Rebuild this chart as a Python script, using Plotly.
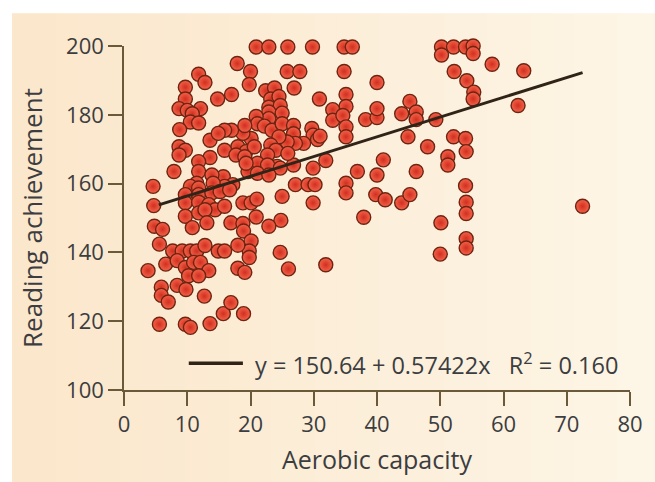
import plotly.graph_objects as go

# ---- data ----
aerobic = [
    50.2, 50.2, 52.1, 54.0, 55.2, 55.2, 58.2, 63.2, 52.2, 54.2, 55.3, 55.2, 62.3, 49.3,
    52.1, 54.0, 54.1, 48.0, 51.2, 51.2, 54.0, 54.1, 54.1, 50.1, 72.5, 54.1, 54.1, 50.0,
    25.9, 29.8, 34.8, 36.1, 25.8, 27.8, 34.8, 26.9, 40.0, 30.9, 35.1, 35.1, 33.0, 33.0,
    34.6, 35.1, 35.1, 38.2, 40.0, 40.0, 43.9, 45.2, 46.2, 46.2, 44.9, 41.0, 40.0, 46.2,
    36.9, 31.9, 29.9, 29.7, 29.9, 30.6, 31.0, 35.1, 35.1, 39.8, 41.3, 43.9, 45.2, 29.9,
    37.9, 24.2, 26.8, 27.1, 29.1, 30.2, 25.0, 24.8, 24.7, 26.0, 31.9,
    20.9, 22.9, 17.9, 20.0, 19.8, 17.0, 22.4, 23.8, 23.2, 24.5, 22.9, 24.7, 22.9, 25.0,
    22.9, 20.9, 21.1, 22.2, 23.4, 25.0, 26.8, 26.8, 28.4, 27.1, 25.8, 24.5, 23.2, 24.0,
    25.9, 20.1, 18.8, 17.0, 19.1, 15.9, 18.0, 19.3, 15.9, 17.7, 20.6, 22.7, 21.1, 22.7,
    24.7, 19.6, 21.1, 22.9, 15.7, 17.2, 15.9,
    11.8, 12.8, 9.7, 9.7, 14.8, 8.7, 10.0, 12.1, 10.8, 10.5, 11.8, 8.8, 13.6, 14.9,
    8.7, 9.7, 8.7, 13.6, 11.8, 7.9, 11.8, 13.9, 11.5, 10.5, 11.8, 4.6, 14.1,
    4.7, 9.7, 11.8, 13.9, 15.2, 9.7, 11.8, 13.4, 14.4, 15.9, 9.7, 11.8, 12.8, 10.8,
    13.1, 4.8, 6.1, 5.6, 7.7, 9.2, 10.5, 11.5, 12.8, 14.9, 15.9, 6.6, 8.4, 9.7,
    11.0, 12.1, 13.4, 10.2, 11.8, 3.8, 5.9, 5.9, 7.0, 8.4, 9.8, 12.7, 5.6, 9.7,
    10.5, 13.6, 15.7,
    16.7, 18.8, 20.1, 21.0, 20.9, 16.9, 18.8, 18.9, 22.9, 20.1, 19.8, 19.8, 18.0, 18.0,
    19.1, 16.9, 18.9, 19.1, 19.3,
]
reading = [
    199.7, 197.4, 199.7, 199.7, 200.0, 197.8, 194.7, 192.8, 192.6, 189.9, 186.6, 184.6, 182.7, 178.6,
    173.6, 173.1, 169.3, 170.7, 167.8, 165.4, 159.4, 154.6, 151.3, 148.6, 153.4, 144.0, 141.3, 139.5,
    199.7, 199.7, 199.7, 199.7, 192.6, 192.6, 192.6, 187.8, 189.4, 184.6, 185.9, 182.4, 181.5, 178.4,
    179.8, 176.5, 173.6, 178.6, 179.2, 181.8, 180.3, 183.9, 180.8, 178.6, 173.6, 166.9, 162.5, 163.5,
    163.5, 166.7, 164.5, 176.0, 174.1, 172.8, 173.8, 160.1, 157.3, 156.8, 155.3, 154.4, 156.8, 154.4,
    150.2, 165.0, 165.4, 159.7, 159.7, 159.7, 156.3, 149.3, 140.0, 135.2, 136.4,
    199.7, 199.7, 194.9, 192.6, 188.8, 185.9, 187.0, 187.8, 184.6, 185.3, 182.2, 182.7, 180.8, 180.5,
    178.9, 179.5, 177.4, 176.7, 175.5, 177.4, 176.9, 174.5, 171.7, 171.7, 172.1, 173.6, 171.2, 169.7,
    168.8, 173.1, 174.6, 175.5, 176.9, 175.5, 170.7, 169.3, 169.7, 168.3, 170.7, 168.3, 165.9, 165.4,
    164.5, 163.5, 163.0, 162.5, 162.0, 159.7, 159.2,
    191.8, 189.4, 188.0, 184.6, 184.6, 181.8, 181.3, 181.8, 180.3, 177.9, 177.6, 175.7, 172.6, 174.6,
    170.7, 169.7, 168.3, 167.6, 166.4, 163.5, 163.5, 162.5, 160.1, 159.2, 158.7, 159.2, 160.1,
    153.6, 156.8, 156.8, 157.3, 157.7, 154.4, 154.6, 153.9, 152.4, 153.4, 150.5, 151.5, 152.4, 147.2,
    148.6, 147.6, 146.7, 142.4, 140.4, 140.4, 140.4, 140.4, 142.0, 140.4, 140.4, 136.6, 137.6, 135.6,
    137.1, 137.1, 134.7, 133.2, 133.2, 134.7, 129.9, 127.5, 125.6, 130.4, 129.2, 127.3, 119.1, 119.1,
    118.2, 119.3, 122.2,
    158.2, 154.4, 154.4, 155.5, 150.3, 148.6, 148.4, 146.2, 147.6, 143.3, 140.4, 138.5, 142.1, 135.4,
    134.2, 125.4, 122.2, 167.8, 165.9,
]

intercept = 150.64
slope = 0.57422
r_squared = 0.160
fit_x = [5.5, 72.5]
fit_y = [intercept + slope * v for v in fit_x]

x_ticks = list(range(0, 81, 10))
y_ticks = list(range(100, 201, 20))

FONT = "Open Sans"
TXT = "#3b3d40"
AXIS = "#6b5a3a"

fig = go.Figure()

fig.add_trace(go.Scatter(
    x=aerobic, y=reading, mode="markers", cliponaxis=False,
    marker=dict(size=14, color="#f3634b",
                gradient=dict(type="radial", color="#d22f1f"),
                line=dict(color="#6e2410", width=1.4)),
    showlegend=False, hoverinfo="x+y",
))

fig.add_trace(go.Scatter(
    x=fit_x, y=fit_y, mode="lines", cliponaxis=False,
    line=dict(color="#2f2417", width=3), showlegend=False,
))

# beige background with a soft horizontal gradient
shapes = []
n = 30
x_left, x_right = -0.2214, 1.06
c0 = (251, 231, 203)
c1 = (253, 245, 230)
for i in range(n):
    t = i / (n - 1)
    col = tuple(round(a + (b - a) * t) for a, b in zip(c0, c1))
    xa = x_left + (x_right - x_left) * i / n
    xb = x_left + (x_right - x_left) * (i + 1) / n + 0.002
    shapes.append(dict(type="rect", xref="paper", yref="paper",
                       x0=xa, x1=xb, y0=-0.4, y1=1.2,
                       fillcolor="rgb(%d,%d,%d)" % col, line=dict(width=0),
                       layer="below"))
# white outer margins (top and left)
shapes.append(dict(type="rect", xref="paper", yref="paper",
                   x0=-0.4, x1=1.2, y0=1.095, y1=1.3,
                   fillcolor="white", line=dict(width=0), layer="below"))
shapes.append(dict(type="rect", xref="paper", yref="paper",
                   x0=-0.4, x1=-0.2214, y0=-0.4, y1=1.3,
                   fillcolor="white", line=dict(width=0), layer="below"))
# legend sample line
shapes.append(dict(type="line", xref="paper", yref="paper",
                   x0=0.128, x1=0.235, y0=0.078, y1=0.078,
                   line=dict(color="#2f2417", width=3.5)))

fig.update_layout(
    width=655, height=482,
    margin=dict(l=124, r=16, t=46, b=88),
    paper_bgcolor="rgb(253,245,230)",
    plot_bgcolor="rgba(0,0,0,0)",
    font=dict(family=FONT, color=TXT, size=22),
    shapes=shapes,
    annotations=[dict(
        xref="paper", yref="paper", x=0.255, y=0.078,
        xanchor="left", yanchor="middle", showarrow=False,
        text="y = %.2f + %.5fx   R<sup>2</sup> = %.3f" % (intercept, slope, r_squared),
        font=dict(family=FONT, size=23.5, color=TXT),
    )],
    xaxis=dict(
        range=[0, 80], tickmode="array", tickvals=x_ticks,
        ticks="outside", ticklen=14, tickwidth=1.5, tickcolor=AXIS,
        showline=True, linecolor=AXIS, linewidth=1.5,
        showgrid=False, zeroline=False,
        tickfont=dict(family=FONT, size=22, color=TXT),
        title=dict(text="Aerobic capacity", standoff=14,
                   font=dict(family=FONT, size=25, color=TXT)),
    ),
    yaxis=dict(
        range=[100, 200], tickmode="array", tickvals=y_ticks,
        ticks="outside", ticklen=14, tickwidth=1.5, tickcolor=AXIS,
        showline=True, linecolor=AXIS, linewidth=1.5,
        showgrid=False, zeroline=False,
        tickfont=dict(family=FONT, size=22, color=TXT),
        title=dict(text="Reading achievement", standoff=16,
                   font=dict(family=FONT, size=26, color=TXT)),
    ),
)

fig.write_html("out.html")
